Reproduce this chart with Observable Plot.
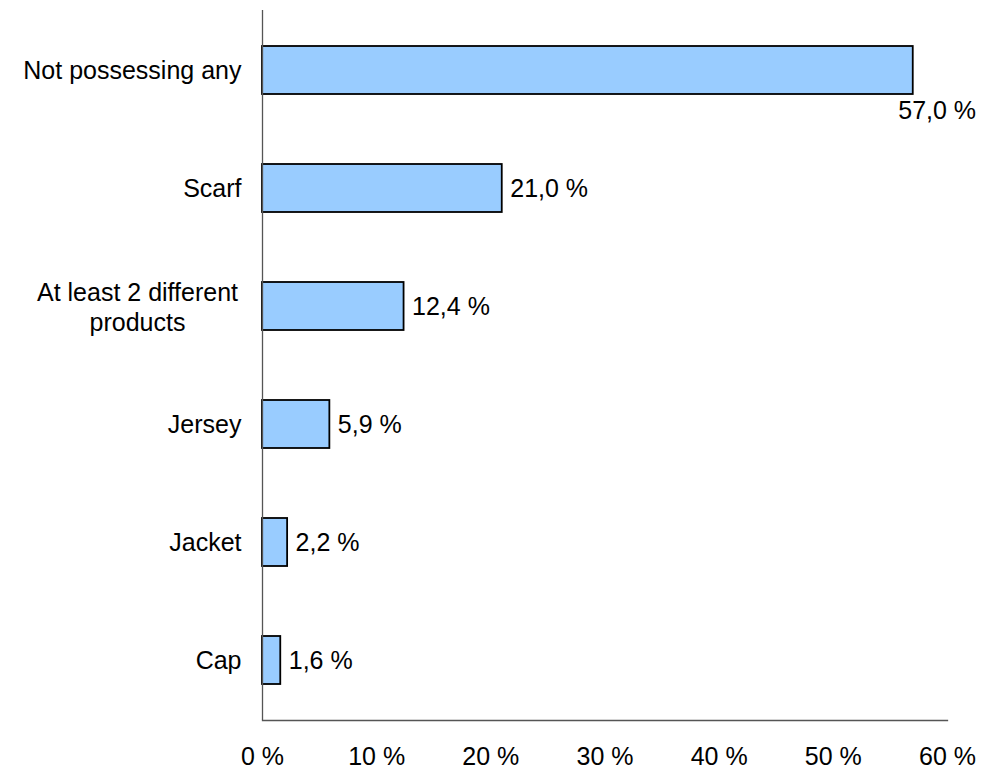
<!DOCTYPE html>
<html>
<head>
<meta charset="utf-8">
<script src="https://cdn.jsdelivr.net/npm/d3@7"></script>
<script src="https://cdn.jsdelivr.net/npm/@observablehq/plot@0.6"></script>
<style>
html, body { margin: 0; padding: 0; background: #fff; }
svg { display: block; }
</style>
</head>
<body>
<div id="chart"></div>
<script>
const categories = ["Not possessing any", "Scarf", "At least 2 different products", "Jersey", "Jacket", "Cap"];
const values = [57.0, 21.0, 12.4, 5.9, 2.2, 1.6];
const xTicks = [0, 10, 20, 30, 40, 50, 60];

const data = categories.map((c, i) => ({category: c, value: values[i]}));
const fmt = v => v.toFixed(1).replace(".", ",") + " %";
const font = "Liberation Sans, Arial, sans-serif";
const fs = 25;

const chart = Plot.plot({
  width: 982,
  height: 771,
  marginLeft: 262,
  marginRight: 35,
  marginTop: 10,
  marginBottom: 51,
  style: {fontFamily: font, fontSize: fs + "px", color: "#000", background: "#fff"},
  x: {domain: [0, 60]},
  y: {domain: categories, paddingInner: 0.594, paddingOuter: 0.297},
  marks: [
    Plot.barX(data, {x: "value", y: "category", fill: "#99ccff", stroke: "#000", strokeWidth: 1.8}),
    Plot.ruleX([0], {stroke: "#555", strokeWidth: 1.3}),
    Plot.frame({anchor: "bottom", stroke: "#555", strokeWidth: 1.3}),
    Plot.axisX({ticks: xTicks, tickSize: 0, tickPadding: 27, tickFormat: d => d + " %", fontSize: fs, label: null}),
    Plot.axisY({tickSize: 0, tickPadding: 21, fontSize: fs, label: null,
      tickFormat: d => d === "At least 2 different products" ? "" : d}),
    Plot.text(data.filter(d => d.category === "At least 2 different products"), {
      y: "category", frameAnchor: "left", dx: -125, text: d => "At least 2 different\nproducts",
      textAnchor: "middle", lineHeight: 1.2, fontSize: fs
    }),
    Plot.text(data.filter(d => d.value < 50), {
      x: "value", y: "category", text: d => fmt(d.value), textAnchor: "start", dx: 8, fontSize: fs
    }),
    Plot.text(data.filter(d => d.value >= 50), {
      x: "value", y: "category", text: d => fmt(d.value), textAnchor: "start", dx: -15, dy: 40, fontSize: fs
    })
  ]
});
document.getElementById("chart").appendChild(chart);
</script>
</body>
</html>
